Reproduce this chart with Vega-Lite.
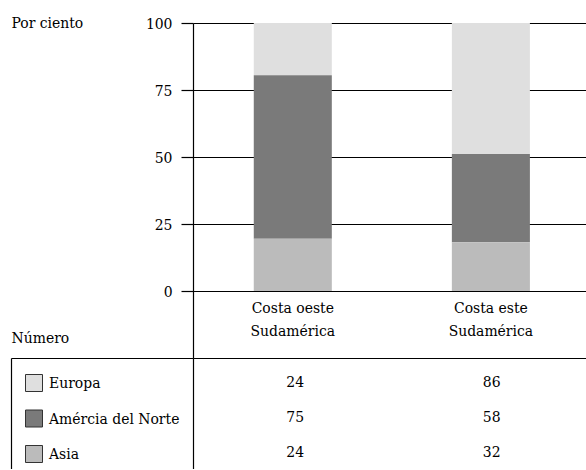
{
  "$schema": "https://vega.github.io/schema/vega-lite/v6.json",
  "background": "white",
  "padding": {"left": 10, "top": 15, "right": 0, "bottom": 0},
  "bounds": "flush",
  "spacing": 0,
  "config": {
    "view": {"stroke": null},
    "font": "DejaVu Serif Condensed, DejaVu Serif",
    "axis": {
      "labelFont": "DejaVu Serif Condensed, DejaVu Serif",
      "titleFont": "DejaVu Serif Condensed, DejaVu Serif",
      "labelFontSize": 15.5,
      "titleFontSize": 15.5,
      "labelColor": "black",
      "titleColor": "black",
      "titleFontWeight": "normal"
    },
    "legend": {
      "labelFont": "DejaVu Serif Condensed, DejaVu Serif",
      "labelFontSize": 15.5,
      "labelColor": "black"
    },
    "text": {"font": "DejaVu Serif Condensed, DejaVu Serif"}
  },
  "data": {
    "values": [
      {"region": "Costa oeste Sudamérica", "continente": "Europa", "valor": 24},
      {"region": "Costa oeste Sudamérica", "continente": "Amércia del Norte", "valor": 75},
      {"region": "Costa oeste Sudamérica", "continente": "Asia", "valor": 24},
      {"region": "Costa este Sudamérica", "continente": "Europa", "valor": 86},
      {"region": "Costa este Sudamérica", "continente": "Amércia del Norte", "valor": 58},
      {"region": "Costa este Sudamérica", "continente": "Asia", "valor": 32}
    ]
  },
  "vconcat": [
    {
      "width": 393,
      "height": 335,
      "transform": [
        {"calculate": "indexof(['Asia','Amércia del Norte','Europa'], datum.continente)", "as": "orden"}
      ],
      "mark": {"type": "bar"},
      "encoding": {
        "x": {
          "field": "region",
          "type": "nominal",
          "sort": null,
          "scale": {"paddingInner": 0.606, "paddingOuter": 0.295, "align": 0.52},
          "axis": {
            "orient": "bottom",
            "offset": -67,
            "title": null,
            "domain": false,
            "ticks": false,
            "labelAngle": 0,
            "labelPadding": 9,
            "labelBaseline": "top",
            "labelLineHeight": 23,
            "labelExpr": "[replace(datum.label, ' Sudamérica', ''), 'Sudamérica']"
          }
        },
        "y": {
          "field": "valor",
          "type": "quantitative",
          "stack": "normalize",
          "scale": {"domain": [-0.25, 1], "nice": false, "zero": false},
          "axis": {
            "values": [-0.25, 0, 0.25, 0.5, 0.75, 1],
            "labelExpr": "datum.value < 0 ? '' : format(datum.value * 100, 'd')",
            "tickSize": {"condition": {"test": "datum.value < 0", "value": 182}, "value": 12},
            "labelPadding": 9,
            "grid": true,
            "gridColor": "black",
            "gridWidth": 1.2,
            "gridOpacity": 1,
            "tickColor": "black",
            "tickWidth": 1.2,
            "domainColor": "black",
            "domainWidth": 1.2,
            "title": "Por ciento",
            "titleAngle": 0,
            "titleAlign": "left",
            "titleBaseline": "middle",
            "titleX": -182,
            "titleY": -1
          }
        },
        "fill": {
          "field": "continente",
          "type": "nominal",
          "scale": {
            "domain": ["Europa", "Amércia del Norte", "Asia"],
            "range": ["#dfdfdf", "#7a7a7a", "#bbbbbb"]
          },
          "legend": {
            "orient": "none",
            "legendX": -168,
            "legendY": 351,
            "title": null,
            "symbolType": "square",
            "symbolSize": 289,
            "labelOffset": 6,
            "rowPadding": 13.5,
            "padding": 0,
            "symbolStrokeColor": "#333333",
            "symbolStrokeWidth": 1,
            "symbolOpacity": 1,
            "encode": {
              "symbols": {
                "update": {
                  "stroke": {"value": "#333333"},
                  "strokeWidth": {"value": 1}
                }
              }
            }
          }
        },
        "order": {"field": "orden", "type": "quantitative"}
      }
    },
    {
      "width": 393,
      "height": 111,
      "layer": [
        {
          "mark": {"type": "text", "fontSize": 15.5, "color": "black", "baseline": "middle"},
          "encoding": {
            "x": {
              "field": "region",
              "type": "nominal",
              "sort": null,
              "scale": {"paddingInner": 0.606, "paddingOuter": 0.295, "align": 0.52},
              "axis": null
            },
            "y": {
              "field": "continente",
              "type": "nominal",
              "sort": ["Europa", "Amércia del Norte", "Asia"],
              "scale": {"type": "band", "domain": ["Europa", "Amércia del Norte", "Asia"], "paddingInner": 0, "paddingOuter": 0.1, "align": 1},
              "axis": {
                "orient": "left",
                "domain": true,
                "domainColor": "black",
                "domainWidth": 1.2,
                "ticks": false,
                "labels": false,
                "grid": false,
                "title": "Número",
                "titleAngle": 0,
                "titleAlign": "left",
                "titleBaseline": "alphabetic",
                "titleX": -182,
                "titleY": -16
              }
            },
            "text": {"field": "valor", "type": "quantitative"}
          }
        },
        {
          "mark": {"type": "text", "opacity": 0, "fontSize": 15.5},
          "encoding": {
            "y": {
              "field": "continente",
              "type": "nominal",
              "sort": ["Europa", "Amércia del Norte", "Asia"],
              "scale": {"type": "band", "domain": ["Europa", "Amércia del Norte", "Asia"], "paddingInner": 0, "paddingOuter": 0.1, "align": 1},
              "axis": {
                "orient": "left",
                "offset": 182,
                "domain": true,
                "domainColor": "black",
                "domainWidth": 1.2,
                "ticks": false,
                "labels": false,
                "grid": false,
                "title": null
              }
            },
            "text": {"field": "valor", "type": "quantitative"}
          }
        }
      ],
      "resolve": {"scale": {"y": "independent"}, "axis": {"y": "independent"}}
    }
  ]
}
